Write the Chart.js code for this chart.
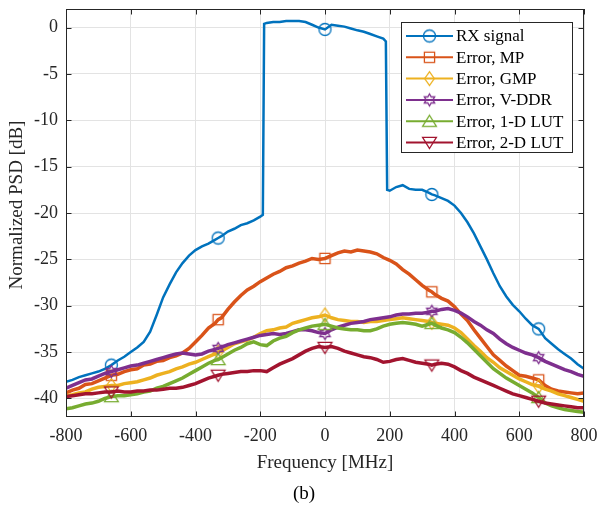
<!DOCTYPE html>
<html><head><meta charset="utf-8">
<script src="https://cdn.jsdelivr.net/npm/chart.js@4.4.0/dist/chart.umd.min.js"></script>
<style>html,body{margin:0;padding:0;background:#fff;}#wrap{width:600px;height:505px;}</style>
</head><body><div id="wrap"><canvas id="c" width="600" height="505"></canvas></div>
<script>
// ---------------- data ----------------
const seriesLabels = ['RX signal', 'Error, MP', 'Error, GMP', 'Error, V-DDR', 'Error, 1-D LUT', 'Error, 2-D LUT'];
const xTickValues = [-800, -600, -400, -200, 0, 200, 400, 600, 800];
const yTickValues = [-40, -35, -30, -25, -20, -15, -10, -5, 0];
const markerFreqs = [-660, -330, 0, 330, 660];

const rxFreq = [-800,-780,-760,-740,-720,-700,-680,-660,-640,-620,-600,-580,-560,-540,-520,-500,-480,-460,-440,-420,-400,-380,-360,-340,-330,-320,-300,-280,-260,-240,-220,-200,-192,-188,-180,-160,-140,-120,-100,-80,-60,-40,-20,0,20,40,60,80,100,120,140,160,180,188,192,200,220,240,260,280,300,320,330,340,360,380,400,420,440,460,480,500,520,540,560,580,600,620,640,660,680,700,720,740,760,780,800];
const rxPsd = [-38.2,-38.0,-37.7,-37.5,-37.3,-37.1,-36.8,-36.4,-35.9,-35.5,-35.0,-34.5,-33.9,-32.8,-31.0,-29.1,-27.7,-26.4,-25.4,-24.6,-24.0,-23.6,-23.3,-22.9,-22.7,-22.5,-22.0,-21.7,-21.3,-21.1,-20.8,-20.4,-20.2,
  0.4,0.5,0.6,0.6,0.7,0.7,0.7,0.6,0.3,0.0,-0.2,0.3,0.2,0.1,-0.1,-0.3,-0.45,-0.7,-0.95,-1.2,-1.5,
  -17.5,-17.6,-17.2,-17.0,-17.4,-17.5,-17.5,-17.8,-18.0,-18.1,-18.4,-18.7,-19.2,-20.0,-21.0,-22.2,-23.6,-25.0,-26.5,-27.9,-29.0,-29.9,-30.6,-31.4,-32.1,-32.5,-33.5,-34.1,-34.7,-35.2,-35.7,-36.3,-36.8];

const freq = [-800,-780,-760,-740,-720,-700,-680,-660,-640,-620,-600,-580,-560,-540,-520,-500,-480,-460,-440,-420,-400,-380,-360,-340,-330,-320,-300,-280,-260,-240,-220,-200,-180,-160,-140,-120,-100,-80,-60,-40,-20,0,20,40,60,80,100,120,140,160,180,200,220,240,260,280,300,320,330,340,360,380,400,420,440,460,480,500,520,540,560,580,600,620,640,660,680,700,720,740,760,780,800];

const mpErr = [-39.4,-39.1,-38.9,-38.5,-38.4,-38.1,-37.8,-37.5,-37.4,-37.1,-36.9,-36.8,-36.4,-36.3,-36.0,-35.9,-35.6,-35.4,-35.1,-34.6,-33.9,-33.2,-32.4,-31.9,
  -31.5,
  -31.3,-30.4,-29.6,-28.9,-28.3,-27.9,-27.4,-27.0,-26.6,-26.3,-25.9,-25.7,-25.4,-25.2,-24.9,-25.0,-24.9,-24.6,-24.3,-24.1,-24.2,-24.0,-24.1,-24.2,-24.4,-24.8,-25.1,-25.5,-26.1,-26.6,-27.2,-27.8,-28.3,
  -28.5,
  -28.8,-29.2,-29.5,-30.1,-30.9,-31.6,-32.6,-33.5,-34.4,-35.3,-35.9,-36.5,-37.0,-37.5,-37.6,-37.8,-38.0,-38.6,-39.0,-39.2,-39.3,-39.4,-39.5,-39.4];

const gmpErr = [-39.7,-39.6,-39.4,-39.3,-39.0,-38.8,-38.7,-38.6,-38.6,-38.4,-38.3,-38.2,-38.0,-37.8,-37.5,-37.3,-37.1,-36.8,-36.6,-36.3,-36.1,-35.8,-35.5,-35.2,
  -35.0,
  -34.9,-34.5,-34.1,-33.9,-33.7,-33.4,-33.0,-32.7,-32.6,-32.4,-32.3,-31.9,-31.7,-31.5,-31.3,-31.2,-31.0,-31.3,-31.5,-31.6,-31.7,-31.7,-31.8,-31.7,-31.7,-31.6,-31.5,-31.4,-31.3,-31.4,-31.5,-31.6,-31.7,
  -31.8,
  -31.9,-32.0,-32.1,-32.4,-32.9,-33.6,-34.3,-34.9,-35.6,-36.1,-36.7,-37.1,-37.5,-37.9,-38.2,-38.5,-38.7,-39.0,-39.2,-39.5,-39.7,-39.9,-40.1,-40.3];

const vddrErr = [-38.9,-38.6,-38.3,-38.0,-37.9,-37.6,-37.3,-37.1,-36.9,-36.7,-36.5,-36.4,-36.2,-36.0,-35.8,-35.6,-35.4,-35.2,-35.1,-35.2,-35.3,-35.2,-34.9,-34.7,
  -34.6,
  -34.5,-34.2,-34.0,-33.8,-33.6,-33.4,-33.2,-33.1,-33.0,-33.1,-33.0,-32.8,-32.6,-32.6,-32.7,-32.9,-33.0,-32.6,-32.3,-32.1,-31.9,-31.8,-31.7,-31.5,-31.4,-31.3,-31.2,-31.0,-30.9,-30.9,-30.8,-30.8,-30.7,
  -30.6,
  -30.6,-30.4,-30.3,-30.5,-30.8,-31.2,-31.7,-32.1,-32.6,-33.0,-33.6,-34.1,-34.5,-34.8,-35.1,-35.3,-35.6,-36.0,-36.3,-36.6,-36.9,-37.1,-37.4,-37.6];

const lut1Err = [-41.1,-41.0,-40.8,-40.6,-40.5,-40.3,-40.0,-39.8,-39.7,-39.7,-39.6,-39.5,-39.3,-39.2,-38.9,-38.7,-38.4,-38.1,-37.8,-37.4,-37.0,-36.6,-36.2,-35.9,
  -35.8,
  -35.6,-35.2,-34.8,-34.5,-34.1,-33.9,-34.2,-34.3,-33.8,-33.5,-33.3,-32.9,-32.6,-32.4,-32.2,-32.1,-32.0,-32.2,-32.4,-32.5,-32.6,-32.6,-32.7,-32.7,-32.5,-32.2,-32.0,-31.9,-31.8,-31.9,-32.0,-32.2,-32.0,
  -31.9,
  -32.1,-32.4,-32.6,-32.9,-33.4,-34.0,-34.7,-35.4,-36.1,-36.8,-37.3,-37.8,-38.2,-38.6,-39.0,-39.4,-39.9,-40.5,-40.8,-41.0,-41.2,-41.3,-41.4,-41.5];

const lut2Err = [-39.8,-39.7,-39.6,-39.5,-39.5,-39.4,-39.3,-39.3,-39.2,-39.3,-39.3,-39.2,-39.2,-39.1,-39.1,-39.0,-38.9,-38.9,-38.8,-38.6,-38.4,-38.1,-37.8,-37.6,
  -37.5,
  -37.4,-37.3,-37.2,-37.1,-37.1,-37.0,-37.0,-37.1,-36.7,-36.3,-36.0,-35.7,-35.3,-34.9,-34.6,-34.4,-34.5,-34.4,-34.6,-34.9,-35.1,-35.3,-35.5,-35.6,-35.8,-36.1,-36.0,-35.8,-35.7,-35.9,-36.1,-36.2,-36.3,
  -36.4,
  -36.3,-36.2,-36.3,-36.6,-37.0,-37.3,-37.7,-38.0,-38.3,-38.6,-38.9,-39.2,-39.5,-39.7,-39.9,-40.1,-40.3,-40.5,-40.6,-40.7,-40.8,-40.9,-41.0,-41.0];

// ---------------- styles ----------------
const colors = ['#0072BD', '#D95319', '#EDB120', '#7E2F8E', '#77AC30', '#A2142F'];
const shapes = ['circle', 'square', 'diamond', 'hexagram', 'triangle', 'triangleDown'];
const lineWidths = [2.5, 3.5, 3.5, 3.5, 3.5, 3.5];
const FONT = "'Liberation Serif','Times New Roman',serif";
const AX = '#262626';

function makeMarker(shape, color, r) {
  const s = Math.ceil(2 * r * 1.25 + 4);
  const cv = document.createElement('canvas');
  cv.width = s; cv.height = s;
  const g = cv.getContext('2d');
  const c = s / 2;
  g.strokeStyle = color; g.lineWidth = 1.3; g.lineJoin = 'miter';
  g.beginPath();
  if (shape === 'circle') {
    g.arc(c, c, r, 0, Math.PI * 2);
  } else if (shape === 'square') {
    const h = r * 0.85; g.rect(c - h, c - h, 2 * h, 2 * h);
  } else if (shape === 'diamond') {
    g.moveTo(c, c - r * 1.15); g.lineTo(c + r * 0.8, c); g.lineTo(c, c + r * 1.15); g.lineTo(c - r * 0.8, c); g.closePath();
  } else if (shape === 'hexagram') {
    for (let k = 0; k < 12; k++) {
      const a = -Math.PI / 2 + k * Math.PI / 6;
      const rr = (k % 2 === 0) ? r : r / Math.sqrt(3);
      const px = c + rr * Math.cos(a), py = c + rr * Math.sin(a);
      if (k === 0) g.moveTo(px, py); else g.lineTo(px, py);
    }
    g.closePath();
  } else if (shape === 'triangle') {
    g.moveTo(c, c - r); g.lineTo(c + r * 1.15, c + r * 0.85); g.lineTo(c - r * 1.15, c + r * 0.85); g.closePath();
  } else if (shape === 'triangleDown') {
    g.moveTo(c, c + r); g.lineTo(c + r * 1.15, c - r * 0.85); g.lineTo(c - r * 1.15, c - r * 0.85); g.closePath();
  }
  g.stroke();
  return cv;
}
const markerImgs = shapes.map((s, i) => makeMarker(s, colors[i], 6));

const seriesX = [rxFreq, freq, freq, freq, freq, freq];
const seriesY = [rxPsd, mpErr, gmpErr, vddrErr, lut1Err, lut2Err];

const datasets = seriesLabels.map((lab, i) => ({
  label: lab,
  data: seriesX[i].map((f, k) => ({ x: f, y: seriesY[i][k] })),
  borderColor: colors[i],
  backgroundColor: 'rgba(0,0,0,0)',
  borderWidth: lineWidths[i],
  pointStyle: markerImgs[i],
  pointRadius: ctx => (markerFreqs.includes(seriesX[i][ctx.dataIndex]) ? 6 : 0),
  pointHoverRadius: 0,
  tension: 0,
  order: 5 - i
}));

const decor = {
  id: 'decor',
  afterDraw(chart) {
    const { ctx, chartArea: a, scales: { x, y } } = chart;
    ctx.save();
    ctx.strokeStyle = AX; ctx.lineWidth = 1;
    ctx.strokeRect(Math.round(a.left) + 0.5, Math.round(a.top) + 0.5, Math.round(a.right - a.left) - 1, Math.round(a.bottom - a.top) - 1);
    const tl = 5.5;
    ctx.beginPath();
    xTickValues.forEach(v => {
      const px = Math.round(x.getPixelForValue(v)) + 0.5;
      ctx.moveTo(px, a.bottom); ctx.lineTo(px, a.bottom - tl);
      ctx.moveTo(px, a.top); ctx.lineTo(px, a.top + tl);
    });
    yTickValues.forEach(v => {
      const py = Math.round(y.getPixelForValue(v)) + 0.5;
      ctx.moveTo(a.left, py); ctx.lineTo(a.left + tl, py);
      ctx.moveTo(a.right, py); ctx.lineTo(a.right - tl, py);
    });
    ctx.stroke();

    // y-axis title
    ctx.save();
    ctx.translate(17, 205);
    ctx.rotate(-Math.PI / 2);
    ctx.fillStyle = AX;
    ctx.font = '19px ' + FONT;
    ctx.textAlign = 'center'; ctx.textBaseline = 'middle';
    ctx.fillText('Normalized PSD [dB]', 0, 0);
    ctx.restore();

    // legend
    const bx = 401, by = 22, bw = 171, bh = 130;
    ctx.fillStyle = '#fff';
    ctx.fillRect(bx, by, bw, bh);
    ctx.strokeStyle = AX; ctx.lineWidth = 1;
    ctx.strokeRect(bx + 0.5, by + 0.5, bw, bh);
    ctx.font = '17px ' + FONT;
    ctx.textBaseline = 'middle'; ctx.textAlign = 'left';
    seriesLabels.forEach((lab, i) => {
      const ry = 36 + i * 21.3;
      ctx.strokeStyle = colors[i]; ctx.lineWidth = 2;
      ctx.beginPath(); ctx.moveTo(406, ry); ctx.lineTo(453, ry); ctx.stroke();
      const im = markerImgs[i];
      ctx.drawImage(im, 429.5 - im.width / 2, ry - im.height / 2);
      ctx.fillStyle = '#000';
      ctx.fillText(lab, 456, ry + 1);
    });

    // panel label
    ctx.fillStyle = '#000';
    ctx.font = '19px ' + FONT;
    ctx.textAlign = 'center'; ctx.textBaseline = 'middle';
    ctx.fillText('(b)', 304, 494);
    ctx.restore();
  }
};

new Chart(document.getElementById('c'), {
  type: 'line',
  data: { datasets },
  options: {
    responsive: false,
    animation: false,
    devicePixelRatio: 1,
    layout: { padding: { top: 9, right: 16, left: 0, bottom: 0 } },
    plugins: { legend: { display: false }, tooltip: { enabled: false } },
    scales: {
      x: {
        type: 'linear', min: -800, max: 800,
        afterBuildTicks: s => { s.ticks = xTickValues.map(v => ({ value: v })); },
        afterFit: s => { s.height = 88; s.paddingLeft = 0; s.paddingRight = 0; },
        ticks: { font: { family: FONT, size: 18 }, color: AX, padding: 8, maxRotation: 0, autoSkip: false },
        grid: { color: '#e3e3e3', drawTicks: false },
        border: { display: false },
        title: { display: true, text: 'Frequency [MHz]', font: { family: FONT, size: 19 }, color: AX, padding: { top: 0, bottom: 31 } }
      },
      y: {
        type: 'linear', min: -42, max: 2,
        afterBuildTicks: s => { s.ticks = yTickValues.map(v => ({ value: v })); },
        afterFit: s => { s.width = 66; s.paddingTop = 0; s.paddingBottom = 0; },
        ticks: { font: { family: FONT, size: 18 }, color: AX, padding: 8, autoSkip: false },
        grid: { color: '#e3e3e3', drawTicks: false },
        border: { display: false },
        title: { display: false }
      }
    }
  },
  plugins: [decor]
});
</script></body></html>
